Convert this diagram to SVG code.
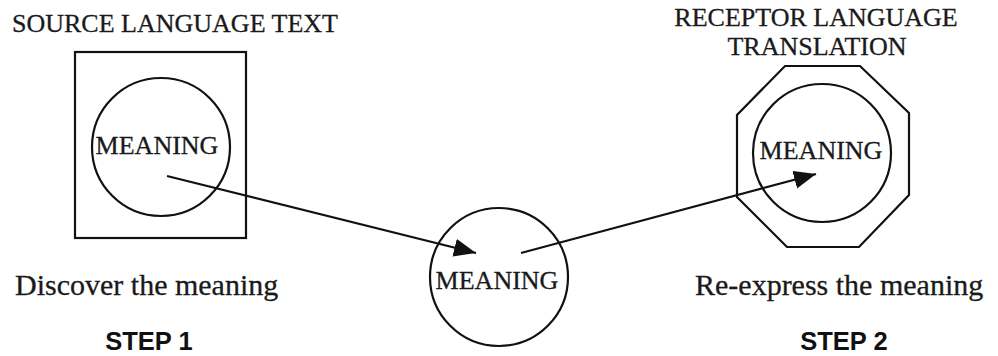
<svg xmlns="http://www.w3.org/2000/svg" width="998" height="356" viewBox="0 0 998 356">
<style>
.shape{fill:none;stroke:#111;stroke-width:2.2}
.serif{font-family:"Liberation Serif","Times New Roman",serif;fill:#1a1a1a;stroke:#1a1a1a;stroke-width:0.3}
.cap{font-size:26px}
.mean{font-size:26px;text-anchor:middle}
.desc{font-size:30px}
.step{font-family:"Liberation Sans",Arial,sans-serif;font-weight:bold;font-size:25.5px;fill:#111;text-anchor:middle}
.conn{fill:none;stroke:#111;stroke-width:2.2}
</style>
<defs>
<marker id="arrow" markerUnits="userSpaceOnUse" markerWidth="26" markerHeight="20" refX="22" refY="9" orient="auto">
<path d="M0,0 L22,9 L0,18 Z" fill="#111"/>
</marker>
</defs>
<rect width="998" height="356" fill="#fff"/>
<g id="source">
<text class="serif cap" x="175" y="32" text-anchor="middle">SOURCE LANGUAGE TEXT</text>
<rect class="shape" x="75" y="52" width="171" height="186"/>
<circle class="shape" cx="161" cy="147" r="69"/>
<text class="serif mean" x="157" y="154">MEANING</text>
<text class="serif desc" x="15" y="295">Discover the meaning</text>
<text class="step" x="149" y="350">STEP 1</text>
</g>
<g id="middle">
<circle class="shape" cx="499" cy="277" r="69"/>
<text class="serif mean" x="497" y="289">MEANING</text>
</g>
<g id="receptor">
<text class="serif cap" x="816" y="26" text-anchor="middle">RECEPTOR LANGUAGE</text>
<text class="serif cap" x="817" y="55" text-anchor="middle">TRANSLATION</text>
<polygon class="shape" points="785,66 860,66 909,113 909,195 859,247 787,247 737,197 737,115"/>
<circle class="shape" cx="822" cy="153" r="69"/>
<text class="serif mean" x="821" y="159">MEANING</text>
<text class="serif desc" x="695" y="295">Re-express the meaning</text>
<text class="step" x="844" y="350">STEP 2</text>
</g>
<g id="connectors">
<line class="conn" x1="167" y1="176" x2="476" y2="253" marker-end="url(#arrow)"/>
<line class="conn" x1="521" y1="253" x2="816" y2="174" marker-end="url(#arrow)"/>
</g>
</svg>
